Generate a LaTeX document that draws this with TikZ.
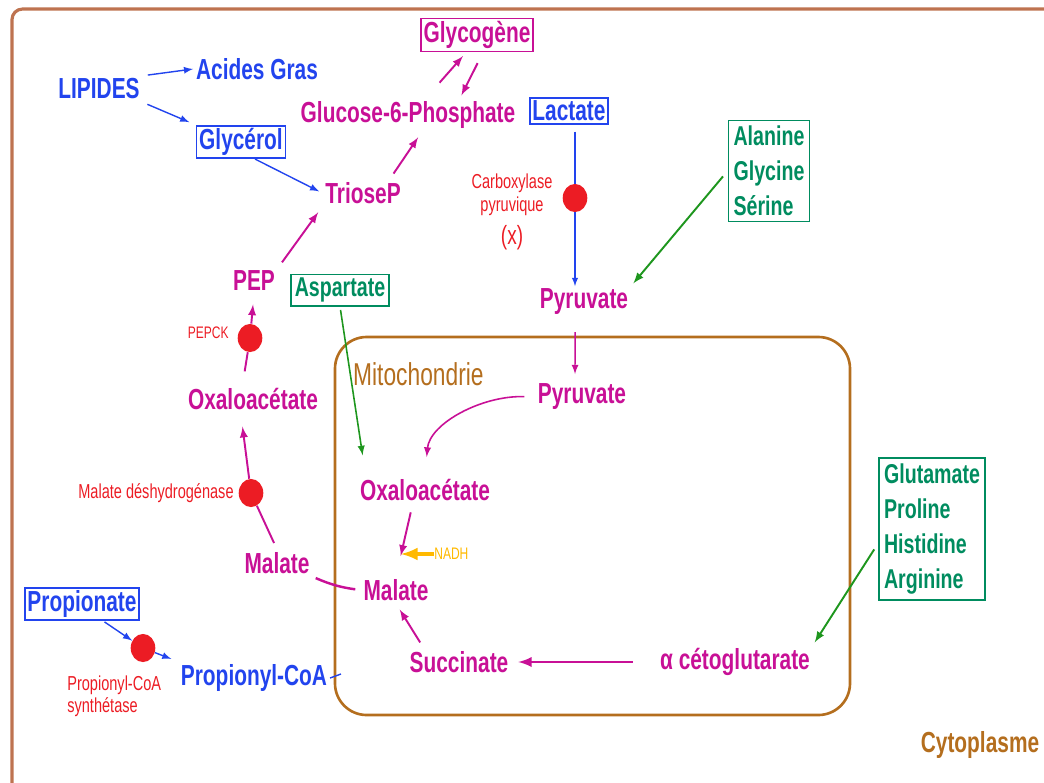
\documentclass[tikz,border=0pt]{standalone}
\usepackage{fontspec}
\setmainfont{Liberation Sans}[FakeStretch=0.72]
\usetikzlibrary{shapes.geometric}
\definecolor{bleu}{RGB}{34,68,238}
\definecolor{magenta}{RGB}{200,16,150}
\definecolor{vert}{RGB}{0,140,95}
\definecolor{vertfl}{RGB}{30,150,30}
\definecolor{rouge}{RGB}{236,28,36}
\definecolor{orange}{RGB}{255,185,0}
\definecolor{brun}{RGB}{180,110,30}
\definecolor{cadre}{RGB}{190,115,80}
\tikzset{
  lbl/.style={font=\bfseries\fontsize{16.5}{19}\selectfont, inner sep=1.5pt},
  txtbleu/.style={lbl, text=bleu},
  txtmag/.style={lbl, text=magenta},
  boite/.style={draw, line width=0.9pt},
  aa/.style={boite, draw=vert, text=vert, align=left, inner sep=3pt,
    font=\bfseries\fontsize{15.5}{20}\selectfont},
  enz/.style={text=rouge, font=\fontsize{11.5}{13}\selectfont, inner sep=0pt},
  enzdot/.style={ellipse, fill=rouge, minimum width=14pt, minimum height=16pt, inner sep=0pt},
  flbleu/.style={-latex, draw=bleu, line width=0.8pt},
  flmag/.style={-latex, draw=magenta, line width=1.1pt},
  flvert/.style={-latex, draw=vertfl, line width=1.1pt}
}
\begin{document}
\begin{tikzpicture}[x=0.02cm, y=-0.02cm]
\useasboundingbox (0,0) rectangle (1044,782);
\draw[cadre, line width=1.8pt, rounded corners=6pt] (12,800) -- (12,9) -- (1060,9);
\draw[brun, line width=1.5pt, rounded corners=18pt] (335,337) rectangle (850,715);
\node[brun, font=\fontsize{18}{20}\selectfont, anchor=west] (mito) at (347,374) {Mitochondrie};
\node[brun, lbl] (cyto) at (980,745) {Cytoplasme};

\node[txtbleu] (lip) at (99,89) {LIPIDES};
\node[txtbleu] (acg) at (257,69) {Acides Gras};
\node[txtbleu, boite, draw=bleu] (glyc) at (241,142) {Glycérol};
\node[txtmag] (tri) at (363,193) {TrioseP};
\node[txtmag] (g6p) at (408,115) {Glucose-6-Phosphate};
\node[txtmag, boite, draw=magenta] (glycog) at (477,35) {Glycogène};
\node[txtbleu, boite, draw=bleu] (lact) at (569,111) {Lactate};
\node[enz, align=center] (carbo) at (512,212) {Carboxylase\\pyruvique\\[5pt]{\fontsize{15}{17}\selectfont (x)}};
\node[enzdot] (dLac) at (575,198) {};
\node[aa] (ala) at (769,171) {Alanine\\Glycine\\Sérine};
\node[txtmag] (pyr) at (584,302) {Pyruvate};

\node[txtmag] (pep) at (254,281) {PEP};
\node[enz, font=\fontsize{9.5}{11}\selectfont, anchor=east] (pepck) at (229,333) {PEPCK};
\node[enzdot] (dPEP) at (250,338) {};
\node[txtmag] (oxac) at (253,399) {Oxaloacétate};
\node[enz, anchor=east] (mdh) at (234,493) {Malate déshydrogénase};
\node[enzdot] (dMDH) at (251,493) {};
\node[txtmag] (malc) at (277,563) {Malate};
\node[aa, inner sep=2pt] (asp) at (340,290) {Aspartate};

\node[txtbleu, boite, draw=bleu] (prop) at (82,604) {Propionate};
\node[enzdot] (dProp) at (143,648) {};
\node[enz, align=left, anchor=north west] (pcs) at (67,675) {Propionyl-CoA\\synthétase};
\node[txtbleu] (propcoa) at (254,678) {Propionyl-CoA};
\coordinate (pcend) at (341,674);

\node[txtmag] (pyrm) at (582,397) {Pyruvate};
\node[txtmag] (oxam) at (425,490) {Oxaloacétate};
\node[txtmag] (malm) at (396,590) {Malate};
\node[text=orange, font=\fontsize{9.5}{11}\selectfont, inner sep=0pt, anchor=west] (nadh) at (434,554) {NADH};
\coordinate (nadhend) at (401,554);
\node[txtmag] (succ) at (459,662) {Succinate};
\node[txtmag] (akg) at (735,662) {α cétoglutarate};
\node[aa] (glu) at (932,529) {Glutamate\\Proline\\Histidine\\Arginine};

\draw[flbleu, shorten <=3pt] (lip.north east) -- (acg.west);
\draw[flbleu, shorten <=3pt, shorten >=4pt] (lip.south east) -- (glyc.north west);
\draw[flbleu, shorten >=2pt] ([xshift=8pt]glyc.south) -- (tri.west);
\draw[flmag, shorten <=4pt, shorten >=4pt] ([xshift=-8pt]tri.north east) -- ([xshift=8pt]g6p.south);
\draw[flmag, shorten <=12pt, shorten >=3pt] ([xshift=10pt]g6p.north) -- ([xshift=-6pt]glycog.south);
\draw[flmag, shorten <=7pt, shorten >=2pt] ([xshift=3.5pt]glycog.south) -- ([xshift=29.5pt]g6p.north);
\draw[flmag, shorten <=4pt, shorten >=4pt] (pep.north east) -- (tri.south west);

\draw[bleu, line width=0.6pt, shorten <=4pt] (lact.south -| dLac) -- (dLac);
\draw[-latex, bleu, line width=0.6pt] (dLac) -- (dLac |- pyr.north);
\draw[flvert, shorten <=4pt, shorten >=2pt] (ala.west) -- (pyr.north east);
\draw[flmag, line width=0.8pt, shorten <=8pt, shorten >=4pt] ([xshift=-5pt]pyr.south) -- ([xshift=-4pt]pyrm.north);

\draw[magenta, line width=1.1pt, shorten <=8pt] ([xshift=-6pt]oxac.north) -- (dPEP);
\draw[flmag, shorten >=6pt] (dPEP) -- (pep.south);
\draw[magenta, line width=1.1pt, shorten <=4pt] (malc.north) -- (dMDH);
\draw[flmag, shorten >=8pt] (dMDH) -- ([xshift=-7pt]oxac.south);
\draw[magenta, line width=1.4pt, shorten <=2pt, shorten >=3pt] (malc.south east) to[bend right=8] (malm.west);
\draw[flvert, line width=0.9pt, shorten <=2pt, shorten >=12pt] (asp.south) -- ([xshift=5pt]oxam.north west);

\draw[flbleu, shorten <=1pt] ([xshift=12pt]prop.south) -- (dProp);
\draw[flbleu, shorten >=4pt] (dProp) -- (propcoa.north west);
\draw[bleu, line width=0.8pt] (propcoa.east) -- (pcend);

\draw[flmag, line width=0.9pt, shorten <=6pt, shorten >=11pt] (pyrm.west) to[out=178, in=85] (oxam.north);
\draw[flmag, shorten <=5pt, shorten >=12pt] ([xshift=-7pt]oxam.south) -- (malm.north);
\draw[-latex, orange, line width=2.2pt] (nadh.west) -- (nadhend);
\draw[flmag, shorten <=4pt, shorten >=4pt] ([xshift=-20pt]succ.north) -- (malm.south);
\draw[flmag, line width=1.6pt, shorten <=14pt, shorten >=4pt] (akg.west) -- (succ.east);
\draw[flvert, shorten <=4pt, shorten >=2pt] (glu.-165) -- (akg.north east);
\end{tikzpicture}
\end{document}
